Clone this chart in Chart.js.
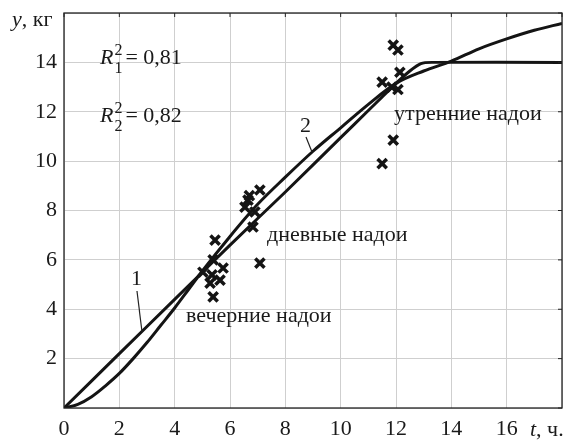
<!DOCTYPE html>
<html>
<head>
<meta charset="utf-8">
<script src="https://cdn.jsdelivr.net/npm/chart.js@4.4.1/dist/chart.umd.min.js"></script>
<style>
  html, body { margin: 0; padding: 0; background: #fff; }
</style>
</head>
<body>
<canvas id="milkChart" width="575" height="440"></canvas>
<script>
// axis ticks
const xTicks = [0, 2, 4, 6, 8, 10, 12, 14, 16, 18];
const yTicks = [0, 2, 4, 6, 8, 10, 12, 14, 16];

// curve 1 (linear with saturation)
const t1 = [0, 2, 4, 6, 8, 10, 11, 11.5, 12, 12.5, 12.9, 13.3, 18];
const y1 = [0, 2.2, 4.4, 6.6, 8.75, 10.95, 12.05, 12.6, 13.15, 13.65, 13.95, 14.0, 14.0];

// curve 2 (smooth growth)
const t2 = [0, 0.5, 1, 1.5, 2, 2.5, 3, 3.5, 4, 4.5, 5, 6, 7, 8, 9, 10, 11, 12, 13, 14, 15, 16, 17, 18];
const y2 = [0, 0.15, 0.46, 0.9, 1.4, 2.0, 2.65, 3.35, 4.05, 4.8, 5.55, 6.95, 8.25, 9.35, 10.4, 11.35, 12.3, 13.15, 13.65, 14.05, 14.55, 14.95, 15.3, 15.58];

// measured yields (crosses)
const tDots = [5.46, 5.39, 5.02, 5.35, 5.64, 5.28, 5.75, 5.39, 7.08,
               7.08, 6.65, 6.54, 6.9, 6.83, 6.7,
               11.9, 12.07, 12.14, 11.5, 11.85, 12.07, 11.9, 11.5];
const yDots = [6.8, 6.0, 5.5, 5.39, 5.18, 5.06, 5.67, 4.5, 5.87,
               8.83, 8.42, 8.14, 7.94, 7.33, 8.6,
               14.7, 14.5, 13.6, 13.2, 13.0, 12.9, 10.85, 9.9];

const serif = '"Liberation Serif", "DejaVu Serif", serif';

function pts(xs, ys) {
  return xs.map((x, i) => ({ x: x, y: ys[i] }));
}

// frame, inner ticks and texts
const decor = {
  id: "decor",
  afterDraw(chart) {
    const ctx = chart.ctx;
    const a = chart.chartArea;
    const sx = chart.scales.x, sy = chart.scales.y;
    ctx.save();
    ctx.strokeStyle = "#222";
    ctx.lineWidth = 1.3;
    ctx.strokeRect(a.left, a.top, a.right - a.left, a.bottom - a.top);
    ctx.lineWidth = 1;
    xTicks.forEach(v => {
      const px = sx.getPixelForValue(v);
      ctx.beginPath(); ctx.moveTo(px, a.top); ctx.lineTo(px, a.top + 4); ctx.stroke();
    });
    yTicks.forEach(v => {
      const py = sy.getPixelForValue(v);
      ctx.beginPath(); ctx.moveTo(a.right, py); ctx.lineTo(a.right - 4, py); ctx.stroke();
    });

    ctx.fillStyle = "#1a1a1a";
    ctx.textBaseline = "alphabetic";
    ctx.textAlign = "left";

    function rsq(x, y, sub, rest) {
      ctx.font = "italic 22px " + serif;
      ctx.fillText("R", x, y);
      const w = ctx.measureText("R").width;
      ctx.font = "16px " + serif;
      ctx.fillText("2", x + w + 1, y - 9);
      ctx.fillText(sub, x + w + 1, y + 9);
      ctx.font = "22px " + serif;
      ctx.fillText(rest, x + w + 12, y);
    }
    rsq(100, 64, "1", "= 0,81");
    rsq(100, 122, "2", "= 0,82");

    ctx.font = "22px " + serif;
    ctx.fillText("утренние надои", 394, 120);
    ctx.fillText("дневные надои", 267, 241);
    ctx.fillText("вечерние надои", 186, 322);
    ctx.fillText("1", 131, 285);
    ctx.fillText("2", 300, 132);

    // leaders
    ctx.lineWidth = 1.2;
    ctx.beginPath(); ctx.moveTo(137, 291); ctx.lineTo(142, 332); ctx.stroke();
    ctx.beginPath(); ctx.moveTo(306, 137); ctx.lineTo(312, 152); ctx.stroke();

    // axis titles in place of last tick labels
    ctx.font = "italic 22px " + serif;
    ctx.fillText("y", 12, 26);
    let w = ctx.measureText("y").width;
    ctx.font = "22px " + serif;
    ctx.fillText(", кг", 12 + w, 26);
    ctx.font = "italic 22px " + serif;
    ctx.fillText("t", 530, 436);
    w = ctx.measureText("t").width;
    ctx.font = "22px " + serif;
    ctx.fillText(", ч.", 530 + w, 436);
    ctx.restore();
  }
};

const ctx = document.getElementById("milkChart").getContext("2d");

new Chart(ctx, {
  type: "scatter",
  data: {
    datasets: [
      {
        label: "1",
        data: pts(t1, y1),
        showLine: true,
        borderColor: "#141414",
        borderWidth: 3,
        pointRadius: 0,
        tension: 0.15,
        order: 2,
      },
      {
        label: "2",
        data: pts(t2, y2),
        showLine: true,
        borderColor: "#141414",
        borderWidth: 3,
        pointRadius: 0,
        cubicInterpolationMode: "monotone",
        order: 2,
      },
      {
        label: "data",
        data: pts(tDots, yDots),
        pointStyle: "crossRot",
        pointRadius: 6.5,
        borderWidth: 3.5,
        borderColor: "#141414",
        order: 1,
      },
    ],
  },
  options: {
    responsive: false,
    animation: false,
    devicePixelRatio: 1,
    layout: { padding: { top: 13, right: 13, left: 0, bottom: 0 } },
    plugins: {
      legend: { display: false },
      tooltip: { enabled: false },
    },
    scales: {
      x: {
        type: "linear",
        min: 0,
        max: 18,
        afterBuildTicks: s => { s.ticks = xTicks.map(v => ({ value: v })); },
        afterFit: s => { s.height = 32; s.paddingLeft = 0; s.paddingRight = 0; },
        grid: { color: "#cfcfcf", lineWidth: 1, tickLength: 0 },
        border: { display: false },
        ticks: {
          color: "#1a1a1a",
          font: { family: serif, size: 22 },
          padding: 8,
          maxRotation: 0,
          callback: v => (v === 18 ? "" : String(v)),
        },
      },
      y: {
        type: "linear",
        min: 0,
        max: 16,
        afterBuildTicks: s => { s.ticks = yTicks.map(v => ({ value: v })); },
        afterFit: s => { s.width = 64; s.paddingTop = 0; s.paddingBottom = 0; },
        grid: { color: "#cfcfcf", lineWidth: 1, tickLength: 0 },
        border: { display: false },
        ticks: {
          color: "#1a1a1a",
          font: { family: serif, size: 22 },
          padding: 7,
          callback: v => (v === 0 || v === 16 ? "" : String(v)),
        },
      },
    },
  },
  plugins: [decor],
});
</script>
</body>
</html>
